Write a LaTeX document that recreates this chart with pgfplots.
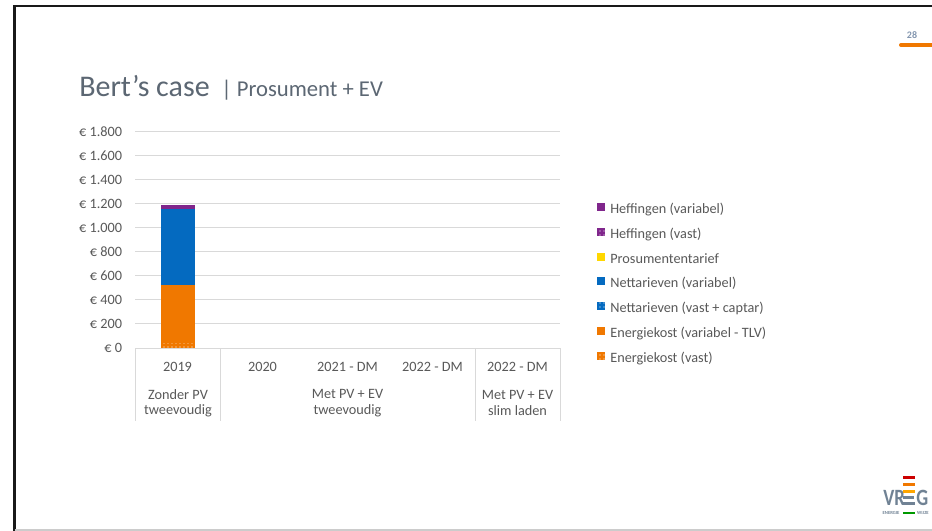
\documentclass[border=0pt]{standalone}
\usepackage{fontspec}
\setmainfont{Carlito}
\usepackage{pgfplots}
\pgfplotsset{compat=1.18}
\usetikzlibrary{patterns}

\definecolor{heff}{RGB}{128,38,140}
\definecolor{prosu}{RGB}{255,215,0}
\definecolor{netblue}{RGB}{4,106,192}
\definecolor{enorange}{RGB}{240,120,0}
\definecolor{gridgray}{RGB}{217,217,217}
\definecolor{txtgray}{RGB}{89,89,89}
\definecolor{titlegray}{RGB}{92,103,115}
\definecolor{pagenum}{RGB}{132,151,176}
\definecolor{logogray}{RGB}{112,130,148}

\pgfplotsset{
  sq/.style={legend image code/.code={\fill[##1] (0pt,-0.6pt) rectangle (6pt,5.4pt);}},
}

\begin{document}
\begin{tikzpicture}
\begin{scope}[x=0.75pt,y=-0.75pt]
\useasboundingbox (0,0) rectangle (932,531);
\fill[white] (0,0) rectangle (932,531);
% slide frame
\draw[line width=1.9pt, black!90] (14.5,531) -- (14.5,6.2) -- (940,6.2);
\draw[line width=0.8pt, gray!40] (14.5,530) -- (932,530);
% title
\node[anchor=base west, inner sep=0, text=titlegray, font=\fontsize{22.5}{26}\selectfont] at (79,97) {Bert’s case};
\node[anchor=base west, inner sep=0, text=titlegray, font=\fontsize{17}{20}\selectfont] at (221,97) {| Prosument + EV};
% page number
\node[text=pagenum, font=\fontsize{7.5}{8}\selectfont\bfseries] at (912,35) {28};
\draw[line width=3pt, enorange, line cap=round] (901,45) -- (945,45);
% category axis
\foreach \xx in {135,220,475,560} \draw[gridgray, line width=0.75pt] (\xx,348) -- (\xx,421);
\begin{scope}[every node/.style={text=txtgray, font=\fontsize{10.7}{13}\selectfont, align=center, inner sep=0}]
\node at (178,403) {Zonder PV\\[-1.5pt]tweevoudig};
\node at (347.5,403) {Met PV + EV\\[-1.5pt]tweevoudig};
\node at (517.5,403) {Met PV + EV\\[-1.5pt]slim laden};
\end{scope}
% logo
\node[anchor=base west, inner sep=0, text=logogray, font=\fontsize{14}{16}\selectfont\bfseries, yscale=1.25] at (883,505) {VR};
\node[anchor=base west, inner sep=0, text=logogray, font=\fontsize{14}{16}\selectfont\bfseries, yscale=1.25] at (916,505) {G};
\fill[red!80!black] (903,476) rectangle (915,479);
\fill[enorange] (903,483) rectangle (915,486);
\fill[orange!70!yellow] (903,490) rectangle (915,493);
\fill[logogray] (903,496) rectangle (914,499);
\fill[logogray] (903,502) rectangle (915,505);
\fill[green!60!black] (903,512) rectangle (915,514);
\node[text=logogray, font=\fontsize{3.5}{4}\selectfont\bfseries, inner sep=0] at (891,513) {ENERGIE};
\node[text=logogray, font=\fontsize{3.5}{4}\selectfont\bfseries, inner sep=0] at (923,513) {WIJZE};
\end{scope}

\begin{axis}[
    at={(101.25pt,-261pt)}, anchor=south west,
    scale only axis, width=318.75pt, height=162.3pt,
    ybar stacked, bar width=25.5pt,
    xmin=-0.5, xmax=4.5, ymin=0, ymax=1800,
    xtick={0,1,2,3,4},
    xticklabels={2019,2020,2021 - DM,2022 - DM,2022 - DM},
    xticklabel style={anchor=center, yshift=-14.25pt, inner sep=0},
    ytick={0,200,...,1800},
    yticklabels={€ 0,€ 200,€ 400,€ 600,€ 800,€ 1.000,€ 1.200,€ 1.400,€ 1.600,€ 1.800},
    yticklabel style={anchor=east, inner sep=0, xshift=-9.5pt},
    ticklabel style={text=txtgray, font=\fontsize{10.7}{13}\selectfont},
    major tick length=0pt, tick style={draw=none},
    axis line style={draw=none},
    ymajorgrids, grid style={draw=gridgray, line width=0.75pt},
    reverse legend,
    legend cell align=left,
    legend style={at={(axis description cs:1.087,0.671)}, anchor=north west,
      draw=none, fill=none, inner sep=0pt, row sep=8.7pt,
      font=\fontsize{10.7}{13}\selectfont, text=txtgray,
      nodes={inner sep=0pt, text height=7pt, text depth=2pt},
      /tikz/every odd column/.append style={column sep=3.8pt}},
  ]
\addplot[fill=enorange, draw=none, postaction={pattern=dots, pattern color=white}, sq]
  coordinates {(0,40)};
\addplot[fill=enorange, draw=none, sq] coordinates {(0,482)};
\addplot[fill=netblue, draw=none, postaction={pattern=dots, pattern color=white}, sq]
  coordinates {(0,10)};
\addplot[fill=netblue, draw=none, sq] coordinates {(0,621)};
\addplot[fill=prosu, draw=none, sq] coordinates {(0,0)};
\addplot[fill=heff, draw=none, postaction={pattern=dots, pattern color=white}, sq]
  coordinates {(0,10)};
\addplot[fill=heff, draw=none, sq] coordinates {(0,25)};
\legend{Energiekost (vast),Energiekost (variabel - TLV),Nettarieven (vast + captar),Nettarieven (variabel),Prosumententarief,Heffingen (vast),Heffingen (variabel)}
\end{axis}
\end{tikzpicture}
\end{document}
